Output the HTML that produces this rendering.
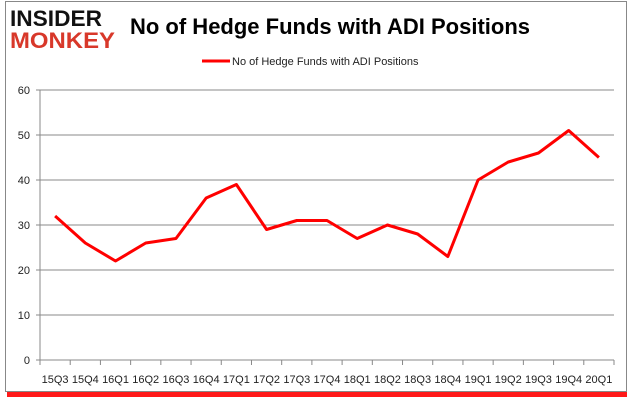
<!DOCTYPE html>
<html><head><meta charset="utf-8"><style>
body{margin:0;background:#fff;width:635px;height:405px;overflow:hidden;font-family:"Liberation Sans",sans-serif}
</style></head><body>
<svg width="635" height="405" xmlns="http://www.w3.org/2000/svg">
<rect x="7" y="392" width="620" height="5" fill="#ff0000" opacity="0.9"/>
<rect x="5.5" y="1.5" width="621" height="390" fill="#fff" stroke="#888"/>
<g>
<text x="10" y="26" font-family="Liberation Sans" font-weight="bold" font-size="22" fill="#111" textLength="92" lengthAdjust="spacingAndGlyphs">INSIDER</text>
<text x="10" y="48" font-family="Liberation Sans" font-weight="bold" font-size="22" fill="#d8382a" textLength="105" lengthAdjust="spacingAndGlyphs">MONKEY</text>
</g>
<text x="130" y="34" font-family="Liberation Sans" font-weight="bold" font-size="22" fill="#000" textLength="400" lengthAdjust="spacingAndGlyphs">No of Hedge Funds with ADI Positions</text>
<g>
<line x1="202" y1="61" x2="230" y2="61" stroke="#f00" stroke-width="3"/>
<text x="232" y="65" font-size="11" fill="#222">No of Hedge Funds with ADI Positions</text>
</g>
<g id="grid"></g><g id="axes"></g><g id="series"></g>
</svg>
<script>
const categories=["15Q3","15Q4","16Q1","16Q2","16Q3","16Q4","17Q1","17Q2","17Q3","17Q4","18Q1","18Q2","18Q3","18Q4","19Q1","19Q2","19Q3","19Q4","20Q1"];
const values=[32,26,22,26,27,36,39,29,31,31,27,30,28,23,40,44,46,51,45];
const yTicks=[0,10,20,30,40,50,60];
const NS="http://www.w3.org/2000/svg";
const L=40,R=614,T=90,B=360,yMax=60;
const bw=(R-L)/categories.length;
const x=i=>L+bw*(i+0.5);
const y=v=>B-(v/yMax)*(B-T);
function mk(tag,attrs,parent){const e=document.createElementNS(NS,tag);for(const k in attrs)e.setAttribute(k,attrs[k]);parent.appendChild(e);return e;}
const grid=document.getElementById('grid'),axes=document.getElementById('axes'),series=document.getElementById('series');
yTicks.forEach(t=>{
 const g=mk('line',{x1:L-4,x2:R,y1:y(t),y2:y(t),stroke:'#888','stroke-width':1},grid);
 
 
 const tx=mk('text',{x:L-10,y:y(t)+4,'text-anchor':'end','font-size':11,fill:'#222'},axes);
 tx.textContent=t;
 
 
});
const ya=mk('line',{x1:L,x2:L,y1:T,y2:B,stroke:'#888'},axes);


for(let i=0;i<=categories.length;i++){
 const tk=mk('line',{x1:L+bw*i,x2:L+bw*i,y1:B,y2:B+5,stroke:'#888'},axes);
 
 
}
categories.forEach((c,i)=>{
 const tx=mk('text',{x:x(i),y:B+23,'text-anchor':'middle','font-size':11,fill:'#222'},axes);
 tx.textContent=c;
 
 
});
const p=mk('polyline',{points:values.map((v,i)=>x(i)+','+y(v)).join(' '),fill:'none',stroke:'#f00','stroke-width':3,'stroke-linejoin':'round'},series);


</script>
</body></html>
